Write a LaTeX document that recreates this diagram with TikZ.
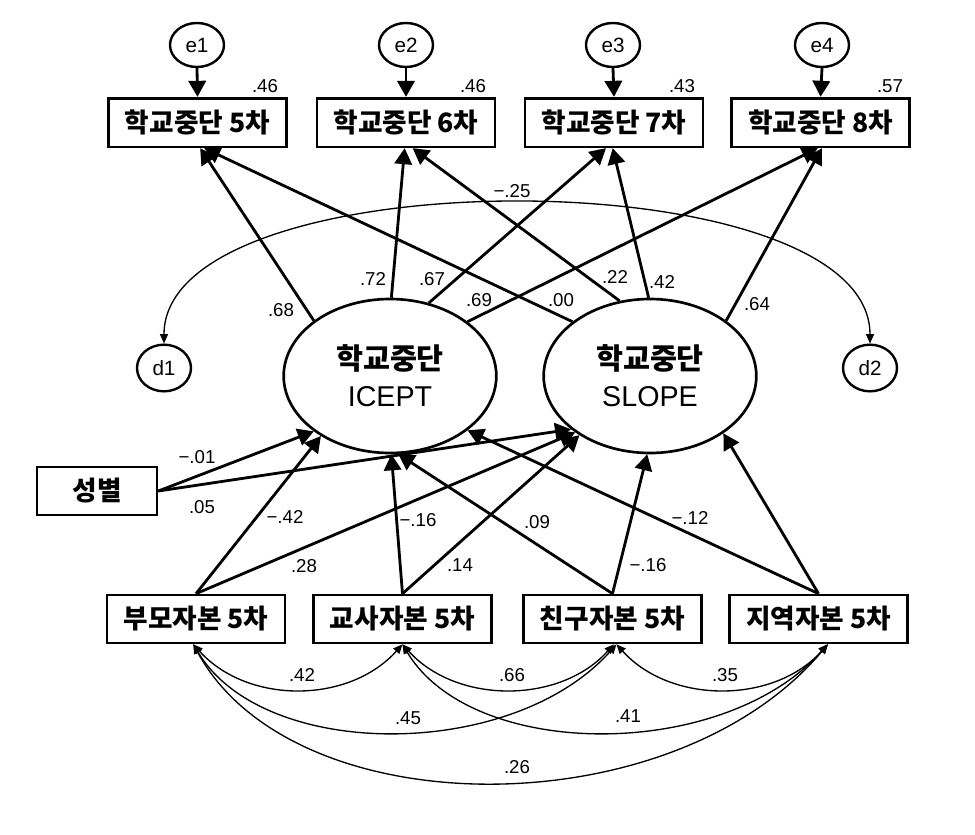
\documentclass[tikz,border=0pt]{standalone}
\usepackage{fontspec}
\setmainfont{Liberation Sans}
\newfontfamily\kr{Noto Sans CJK KR}
\usetikzlibrary{arrows.meta,shapes.geometric}
\tikzset{
  x=0.75pt, y=-0.75pt,
  box/.style={draw, line width=2pt, inner sep=0pt, minimum width=133.5pt, minimum height=36.5pt,
    font=\kr\bfseries\fontsize{20}{22}\selectfont},
  lat/.style={draw, ellipse, line width=2pt, inner sep=0pt, minimum width=159.5pt, minimum height=115.5pt,
    align=center, font=\fontsize{21.5}{28}\selectfont},
  err/.style={draw, ellipse, line width=1.8pt, inner sep=0pt, minimum width=40.5pt, minimum height=33pt,
    font=\fontsize{15.5}{17}\selectfont},
  lab/.style={inner sep=0pt, font=\fontsize{14}{16}\selectfont},
  reg/.style={line width=2.1pt, -{Triangle[length=12pt,width=13pt]}},
  cov/.style={line width=1pt, {Triangle[length=7pt,width=6pt]}-{Triangle[length=7pt,width=6pt]}},
}
\newcommand\lattext[1]{{\kr\bfseries\fontsize{22}{28}\selectfont 학교중단}\\#1}
\begin{document}
\begin{tikzpicture}
\useasboundingbox (0,0) rectangle (975,835);
% error terms
\node[err] (e1) at (197,45) {e1};
\node[err] (e2) at (406,45) {e2};
\node[err] (e3) at (613,45) {e3};
\node[err] (e4) at (822,45) {e4};
% top boxes
\node[box] (b1) at (197.5,122.5) {학교중단 5차};
\node[box] (b2) at (406,122.5) {학교중단 6차};
\node[box] (b3) at (614,122.5) {학교중단 7차};
\node[box] (b4) at (820.5,122.5) {학교중단 8차};
% latent
\node[lat] (ic) at (390,376) {\lattext{ICEPT}};
\node[lat] (sl) at (650,376) {\lattext{SLOPE}};
\node[err, minimum height=35pt] (d1) at (164,368) {d1};
\node[err, minimum height=35pt] (d2) at (870,368) {d2};
% predictors
\node[box, minimum width=90pt, minimum height=36pt] (sb) at (97,491) {성별};
\node[box, minimum height=36pt] (p1) at (196,619) {부모자본 5차};
\node[box, minimum height=36pt] (p2) at (402.5,619) {교사자본 5차};
\node[box, minimum height=36pt] (p3) at (612.5,619) {친구자본 5차};
\node[box, minimum height=36pt] (p4) at (818.5,619) {지역자본 5차};
% error arrows
\draw[reg] (e1.south) -- (b1.north);
\draw[reg] (e2.south) -- (b2.north);
\draw[reg] (e3.south) -- (b3.north);
\draw[reg] (e4.south) -- (b4.north);
% loadings
\draw[reg] (ic.144) -- ([xshift=2pt]b1.south);
\draw[reg] (ic.89) -- ([xshift=-1pt]b2.south);
\draw[reg] (ic.62) -- ([xshift=-6pt]b3.south);
\draw[reg] (ic.35) -- ([xshift=-2pt]b4.south);
\draw[reg] (sl.145) -- ([xshift=5pt]b1.south);
\draw[reg] (sl.112) -- ([xshift=5pt]b2.south);
\draw[reg] (sl.91.5) -- ([xshift=-1pt]b3.south);
\draw[reg] (sl.36) -- ([xshift=1pt]b4.south);
% structural paths
\draw[reg] (sb.east) -- (ic.216);
\draw[reg] (sb.east) -- (sl.214);
\draw[reg] (p1.north) -- (ic.221);
\draw[reg] (p1.north) -- (sl.217);
\draw[reg] (p2.north) -- (ic.271);
\draw[reg] (p2.north) -- (sl.220);
\draw[reg] (p3.north) -- (ic.276);
\draw[reg] (p3.north) -- (sl.268);
\draw[reg] (p4.north) -- (ic.325);
\draw[reg] (p4.north) -- (sl.322);
% disturbance covariance
\draw[cov] (d1.north) .. controls +(0,-187) and +(0,-187) .. (d2.north);
% exogenous covariances
\draw[cov] ([xshift=-2pt]p1.south) .. controls +(54,60) and +(-54,60) .. (p2.south);
\draw[cov] (p2.south) .. controls +(54,60) and +(-54,60) .. ([xshift=1pt]p3.south);
\draw[cov] ([xshift=3pt]p3.south) .. controls +(54,60) and +(-54,60) .. ([xshift=7pt]p4.south);
\draw[cov] ([xshift=-2pt]p1.south) .. controls +(70,117) and +(-104,117) .. ([xshift=3pt]p3.south);
\draw[cov] (p2.south) .. controls +(70,117) and +(-104,117) .. ([xshift=7pt]p4.south);
\draw[cov] ([xshift=-2pt]p1.south) .. controls +(100,184) and +(-155,184) .. ([xshift=7pt]p4.south);
% labels
\node[lab] (r1) at (265,86) {.46};
\node[lab] (r2) at (473,86) {.46};
\node[lab] (r3) at (682,86) {.43};
\node[lab] (r4) at (890,86) {.57};
\node[lab] (l1) at (281,310) {.68};
\node[lab] (l2) at (373,279) {.72};
\node[lab] (l3) at (432,279) {.67};
\node[lab] (l4) at (479,300) {.69};
\node[lab] (l5) at (561,300) {.00};
\node[lab] (l6) at (615,277) {.22};
\node[lab] (l7) at (662,282) {.42};
\node[lab] (l8) at (757,304) {.64};
\node[lab] (c0) at (512,191) {−.25};
\node[lab] (s1) at (197,457) {−.01};
\node[lab] (s2) at (202,507) {.05};
\node[lab] (s3) at (285,517) {−.42};
\node[lab] (s4) at (304,566) {.28};
\node[lab] (s5) at (418,520) {−.16};
\node[lab] (s6) at (460,565) {.14};
\node[lab] (s7) at (537,522) {.09};
\node[lab] (s8) at (648,565) {−.16};
\node[lab] (s9) at (690,518) {−.12};
\node[lab] (c1) at (302,675) {.42};
\node[lab] (c2) at (512,675) {.66};
\node[lab] (c3) at (725,675) {.35};
\node[lab] (c4) at (408,718) {.45};
\node[lab] (c5) at (628,716) {.41};
\node[lab] (c6) at (517,767) {.26};
\end{tikzpicture}
\end{document}
